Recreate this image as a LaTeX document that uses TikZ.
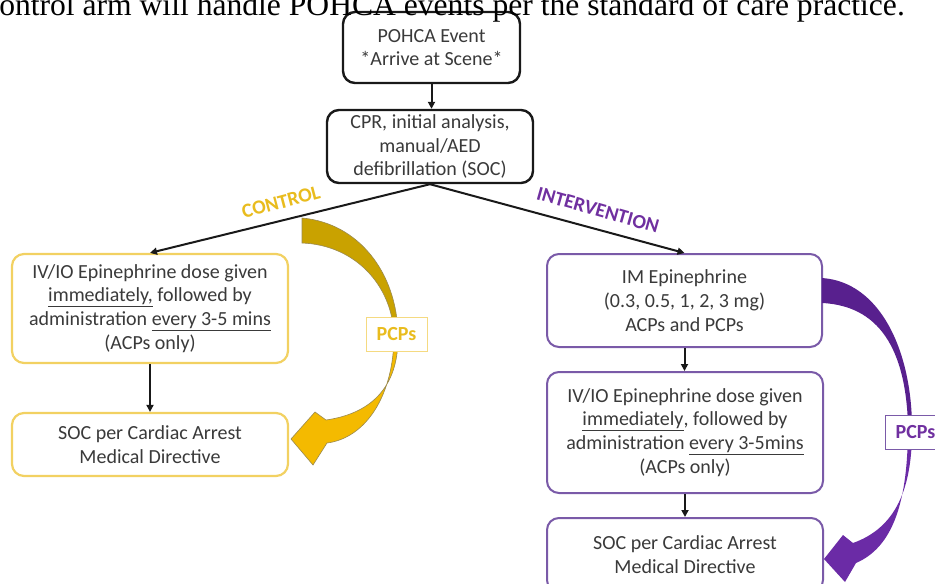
\documentclass[tikz,border=0pt]{standalone}
\usepackage{fontspec}
\setmainfont{Carlito}
\newfontfamily\timesfont{Liberation Serif}
\usetikzlibrary{arrows.meta}
\definecolor{txt}{HTML}{3A3A3A}
\definecolor{ylw}{HTML}{F2D162}
\definecolor{ylwtext}{HTML}{E9BC1E}
\definecolor{ylwdark}{HTML}{C9A200}
\definecolor{ylwbright}{HTML}{F4BA00}
\definecolor{ylwedge}{HTML}{9A8A50}
\definecolor{prp}{HTML}{7A5AA8}
\definecolor{prptext}{HTML}{7030A0}
\definecolor{prpdark}{HTML}{58208E}
\definecolor{prpbright}{HTML}{6B2BA6}
\tikzset{
  boxbase/.style={rounded corners=12pt, fill=white, align=center, inner sep=0pt, text=txt},
  blkbox/.style={boxbase, draw=black!90, line width=2.4pt},
  ylwbox/.style={boxbase, draw=ylw, line width=2.2pt},
  prpbox/.style={boxbase, draw=prp, line width=2pt},
  arr/.style={-{Triangle[length=7pt,width=7pt]}, line width=2pt, draw=black!90},
  pcplabel/.style={fill=white, line width=0.8pt, font=\fontsize{20}{24}\selectfont\bfseries, minimum width=61pt, minimum height=34pt, inner sep=0pt},
  armlabel/.style={font=\fontsize{20}{24}\selectfont\bfseries, inner sep=0pt}
}
\begin{document}
\begin{tikzpicture}[x=1pt, y=-1pt, font=\fontsize{20}{23.8}\selectfont]
\useasboundingbox (0,0) rectangle (935,584);
\clip (0,0) rectangle (935,584);
\fill[white] (0,0) rectangle (935,584);

% boxes
\node[blkbox, minimum width=177pt, minimum height=71pt] (pohca) at (431.5,47.5) {POHCA Event\\*Arrive at Scene*};
\node[blkbox, minimum width=206pt, minimum height=73pt] (cpr) at (430,146.5) {CPR, initial analysis,\\manual/AED\\defibrillation (SOC)};
\node[ylwbox, minimum width=276pt, minimum height=109pt] (b1) at (150,308.5) {IV/IO Epinephrine dose given\\\underline{immediately,} followed by\\administration \underline{every 3-5 mins}\\(ACPs only)};
\node[ylwbox, minimum width=276pt, minimum height=63pt] (s1) at (150,444.5) {SOC per Cardiac Arrest\\Medical Directive};
\node[prpbox, minimum width=275pt, minimum height=93pt] (r1) at (684.5,300.5) {IM Epinephrine\\(0.3, 0.5, 1, 2, 3 mg)\\ACPs and PCPs};
\node[prpbox, minimum width=276pt, minimum height=121pt] (r2) at (685,432.5) {IV/IO Epinephrine dose given\\\underline{immediately}, followed by\\administration \underline{every 3-5mins}\\(ACPs only)};
\node[prpbox, minimum width=276pt, minimum height=74pt] (r3) at (685,555) {SOC per Cardiac Arrest\\Medical Directive};

% connectors
\draw[arr] (pohca.south) -- (pohca.south |- cpr.north);
\draw[arr] (cpr.south) -- (b1.north);
\draw[arr] (cpr.south) -- (r1.north);
\draw[arr] (b1.south) -- (b1.south |- s1.north);
\draw[arr] (r1.south) -- (r1.south |- r2.north);
\draw[arr] (r2.south) -- (r2.south |- r3.north);

% yellow curved arrow
\fill[ylwdark, draw=ylwedge, line width=0.6pt] (302,218) .. controls (358,223) and (397,272) .. (398,335)
  -- (394,335) .. controls (392,285) and (355,245) .. (302,243) -- cycle;
\fill[ylwbright, draw=ylwedge, line width=0.6pt] (398,335) .. controls (399,390) and (368,414) .. (326,420)
  -- (315,412) -- (291,439) -- (313,465) -- (327,443) .. controls (366,438) and (394,395) .. (394,335) -- cycle;

% purple curved arrow
\fill[prpdark] (822,278) .. controls (880,282) and (911,350) .. (912,425)
  -- (908,425) .. controls (906,360) and (886,306) .. (822,303) -- cycle;
\fill[prpbright] (912,425) .. controls (913,490) and (895,528) .. (853,543)
  -- (843,535) -- (824,559) -- (845,582) -- (856,563) .. controls (898,545) and (908,490) .. (908,425) -- cycle;

% labels
\node[armlabel, rotate=14.7, text=ylwtext] (ctl) at (281,202) {CONTROL};
\node[armlabel, rotate=-15.8, text=prptext] (itv) at (598,210) {INTERVENTION};
\node[pcplabel, draw=ylw!80, text=ylwtext] (pcpy) at (396.5,334) {PCPs};
\node[pcplabel, draw=prp, text=prptext] (pcpp) at (915.5,432.5) {PCPs};

% clipped running text at the top
\node[font=\timesfont\fontsize{31.6}{36}\selectfont, text=black, anchor=base east, inner sep=0pt] (toptext) at (905,15) {control arm will handle POHCA events per the standard of care practice.};
\end{tikzpicture}
\end{document}
